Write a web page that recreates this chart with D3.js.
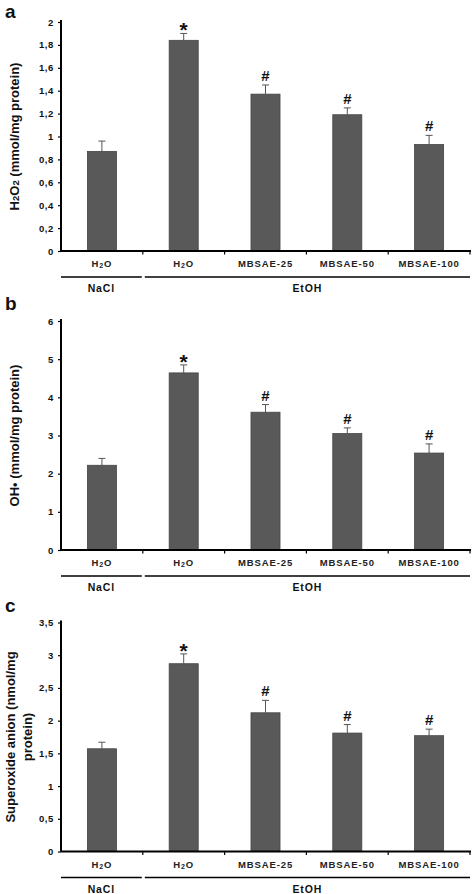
<!DOCTYPE html>
<html><head><meta charset="utf-8">
<script src="https://cdn.jsdelivr.net/npm/d3@7"></script>
<style>
body{margin:0;background:#fff;}
svg{display:block;font-family:"Liberation Sans",Arial,sans-serif;font-weight:bold;}
</style></head>
<body>
<svg id="chart" width="473" height="894"></svg>
<script>
const categories = ["H2O", "H2O", "MBSAE-25", "MBSAE-50", "MBSAE-100"];
const groups = [{name: "NaCl", from: 0, to: 0}, {name: "EtOH", from: 1, to: 4}];
const markers = ["", "*", "#", "#", "#"];

const h2o2Values = [0.87, 1.84, 1.37, 1.19, 0.93];
const h2o2Errors = [0.09, 0.06, 0.08, 0.06, 0.08];
const h2o2Ticks = [0, 0.2, 0.4, 0.6, 0.8, 1, 1.2, 1.4, 1.6, 1.8, 2];

const ohValues = [2.22, 4.64, 3.61, 3.05, 2.54];
const ohErrors = [0.18, 0.21, 0.20, 0.15, 0.24];
const ohTicks = [0, 1, 2, 3, 4, 5, 6];

const supValues = [1.57, 2.87, 2.12, 1.81, 1.77];
const supErrors = [0.10, 0.15, 0.19, 0.13, 0.10];
const supTicks = [0, 0.5, 1, 1.5, 2, 2.5, 3, 3.5];

const panels = [
  {letter: "a", values: h2o2Values, errors: h2o2Errors, ticks: h2o2Ticks, max: 2, top: 22, bottom: 251, title: ["H2O2 (mmol/mg protein)"]},
  {letter: "b", values: ohValues, errors: ohErrors, ticks: ohTicks, max: 6, top: 321, bottom: 550, title: ["OH• (mmol/mg protein)"]},
  {letter: "c", values: supValues, errors: supErrors, ticks: supTicks, max: 3.5, top: 622.5, bottom: 851.5, title: ["Superoxide anion (nmol/mg", "protein)"]}
];

const locale = d3.formatLocale({decimal: ",", thousands: ".", grouping: [3], currency: ["", ""]});
const fmt = v => locale.format("~g")(v);

const svg = d3.select("#chart");
const left = 61, right = 470;
const x = d3.scaleBand().domain(d3.range(categories.length)).range([left, right]).padding(0);
const barW = x.bandwidth() * 0.355;
const barColor = "#595959";

function catLabel(sel, label) {
  if (label === "H2O") {
    sel.append("tspan").text("H");
    sel.append("tspan").text("2").attr("font-size", "7px").attr("dy", "1");
    sel.append("tspan").text("O").attr("dy", "-1");
  } else {
    sel.text(label);
  }
}

panels.forEach(p => {
  const y = d3.scaleLinear().domain([0, p.max]).range([p.bottom, p.top]);
  const g = svg.append("g");

  // panel letter
  g.append("text").attr("x", 5).attr("y", p.letter === "a" ? 18 : p.top - 11).attr("font-size", "19px").attr("fill", "#111").text(p.letter);

  // y axis
  const yAxis = g.append("g").attr("transform", `translate(${left},0)`)
    .call(d3.axisLeft(y).tickValues(p.ticks).tickFormat(fmt).tickSize(3).tickSizeOuter(0));
  yAxis.select(".domain").attr("stroke", "#000").attr("stroke-width", 2)
    .attr("d", `M0,${p.top - 2}V${p.bottom}`);
  yAxis.selectAll(".tick line").attr("stroke", "#000").attr("stroke-width", 1.2);
  yAxis.selectAll(".tick text").attr("font-size", "9.5px").attr("font-weight", "bold")
    .attr("font-family", "Liberation Sans, Arial, sans-serif").attr("fill", "#111").attr("x", -7).attr("letter-spacing", "0.6px");

  // bars
  g.selectAll("rect.bar").data(p.values).enter().append("rect")
    .attr("x", (d, i) => x(i) + (x.bandwidth() - barW) / 2)
    .attr("y", d => y(d))
    .attr("width", barW)
    .attr("height", d => y(0) - y(d))
    .attr("fill", barColor).attr("stroke", "#444").attr("stroke-width", 0.8);

  // error bars (upward)
  const eb = g.selectAll("g.err").data(p.values).enter().append("g");
  eb.append("line")
    .attr("x1", (d, i) => x(i) + x.bandwidth() / 2).attr("x2", (d, i) => x(i) + x.bandwidth() / 2)
    .attr("y1", d => y(d)).attr("y2", (d, i) => y(d + p.errors[i]))
    .attr("stroke", "#555").attr("stroke-width", 1);
  eb.append("line")
    .attr("x1", (d, i) => x(i) + x.bandwidth() / 2 - 3.5).attr("x2", (d, i) => x(i) + x.bandwidth() / 2 + 3.5)
    .attr("y1", (d, i) => y(d + p.errors[i])).attr("y2", (d, i) => y(d + p.errors[i]))
    .attr("stroke", "#555").attr("stroke-width", 1);

  // significance markers
  g.selectAll("text.mark").data(p.values).enter().append("text")
    .attr("x", (d, i) => x(i) + x.bandwidth() / 2)
    .attr("y", (d, i) => y(d + p.errors[i]) - (markers[i] === "*" ? -4 : 4))
    .attr("text-anchor", "middle")
    .attr("font-size", (d, i) => markers[i] === "*" ? "21px" : "15px")
    .attr("fill", "#111")
    .text((d, i) => markers[i]);

  // x axis
  g.append("line").attr("x1", left).attr("x2", right + 1).attr("y1", p.bottom).attr("y2", p.bottom)
    .attr("stroke", "#000").attr("stroke-width", 2);
  const bounds = d3.range(1, categories.length).map(i => x(i)).concat([right]);
  g.selectAll("line.xt").data(bounds).enter().append("line")
    .attr("x1", d => d).attr("x2", d => d).attr("y1", p.bottom).attr("y2", p.bottom + 3.5)
    .attr("stroke", "#000").attr("stroke-width", 1.2);

  // category labels
  categories.forEach((c, i) => {
    const t = g.append("text").attr("x", x(i) + x.bandwidth() / 2).attr("y", p.bottom + 16)
      .attr("text-anchor", "middle").attr("font-size", "9.5px").attr("letter-spacing", "0.9px").attr("fill", "#222");
    catLabel(t, c);
  });

  // group lines and labels
  groups.forEach(gr => {
    const x0 = x(gr.from) + (gr.from === 0 ? 0 : 2);
    const x1 = x(gr.to) + x.bandwidth() - (gr.to === 0 ? 1 : 0);
    g.append("line").attr("x1", x0).attr("x2", x1).attr("y1", p.bottom + 26).attr("y2", p.bottom + 26)
      .attr("stroke", "#000").attr("stroke-width", 1.5);
    g.append("text").attr("x", (x0 + x1) / 2).attr("y", p.bottom + 41)
      .attr("text-anchor", "middle").attr("font-size", "10.5px").attr("letter-spacing", "0.9px").attr("fill", "#111")
      .text(gr.name);
  });

  // y title
  const cy = (p.top + p.bottom) / 2;
  const n = p.title.length;
  p.title.forEach((line, k) => {
    const xx = n === 1 ? 19 : 15 + k * 17;
    const t = g.append("text").attr("transform", `translate(${xx},${cy}) rotate(-90)`)
      .attr("text-anchor", "middle").attr("font-size", "13px").attr("fill", "#111");
    if (line.startsWith("H2O2")) {
      t.append("tspan").text("H");
      t.append("tspan").text("2").attr("font-size", "9.5px");
      t.append("tspan").text("O");
      t.append("tspan").text("2").attr("font-size", "9.5px");
      t.append("tspan").text(" (mmol/mg protein)");
    } else {
      t.text(line);
    }
  });
});
</script>
</body></html>
